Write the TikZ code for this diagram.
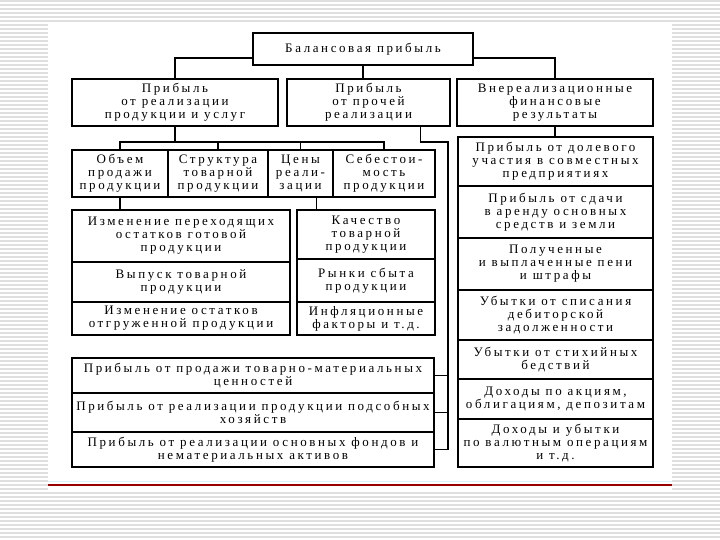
\documentclass[tikz,border=0pt]{standalone}
\usepackage{fontspec}
\setmainfont[LetterSpace=20]{Liberation Serif}
\usetikzlibrary{positioning, calc}

\begin{document}
\begin{tikzpicture}[
        x=1pt, y=-1pt,
        node distance=0pt,
        box/.style={
            draw,
            rectangle,
            line width=1.7pt,
            outer sep=0pt,
            inner sep=1pt,
            align=center,
            font=\fontsize{13pt}{13pt}\selectfont
        },
        link/.style={line width=1.7pt}
    ]

        \useasboundingbox (0,0) rectangle (720,540);
        % slide background
        \foreach \y in {1,5,...,539}
            \draw[gray!25, line width=1.3pt] (0,\y) -- (720,\y);
        \fill[white] (48,22) rectangle (672,490);
        \draw[cyan!15, line width=1pt] (48,481) -- (672,481);
        \draw[red!60!black, line width=1.2pt] (48,485) -- (672,485);

        \node[box, minimum width=220pt, minimum height=32pt] (bal) at (363,49) {Балансовая прибыль};

        \node[box, minimum width=206pt, minimum height=47pt] (real) at (175,102.5) {Прибыль\\ от реализации\\ продукции и услуг};
        \node[box, minimum width=163pt, minimum height=47pt] (other) at (368.5,102.5) {Прибыль\\ от прочей\\ реализации};
        \node[box, minimum width=196pt, minimum height=47pt] (nonop) at (555,102.5) {Внереализационные\\ финансовые\\ результаты};

        \node[box, minimum width=96pt, minimum height=47pt] (vol) at (120,173.5) {Объем\\ продажи\\ продукции};
        \node[box, minimum width=100pt, minimum height=47pt, right=of vol] (struct) {Структура\\ товарной\\ продукции};
        \node[box, minimum width=65pt, minimum height=47pt, right=of struct] (price) {Цены\\ реали-\\ зации};
        \node[box, minimum width=102pt, minimum height=47pt, right=of price] (cost) {Себестои-\\ мость\\ продукции};

        \node[box, anchor=north, minimum width=218pt, minimum height=52pt] (stock) at (181,210) {Изменение переходящих\\ остатков готовой\\ продукции};
        \node[box, minimum width=218pt, minimum height=40pt, below=of stock] (output) {Выпуск товарной\\ продукции};
        \node[box, minimum width=218pt, minimum height=33pt, below=of output] (shipped) {Изменение остатков\\ отгруженной продукции};

        \node[box, anchor=north, minimum width=138pt, minimum height=49pt] (quality) at (366,210) {Качество\\ товарной\\ продукции};
        \node[box, minimum width=138pt, minimum height=43pt, below=of quality] (markets) {Рынки сбыта\\ продукции};
        \node[box, minimum width=138pt, minimum height=33pt, below=of markets] (inflation) {Инфляционные\\ факторы и т.д.};

        \node[box, anchor=north, minimum width=362pt, minimum height=35pt] (tmc) at (253,358) {Прибыль от продажи товарно-материальных\\ ценностей};
        \node[box, minimum width=362pt, minimum height=39pt, below=of tmc] (aux) {Прибыль от реализации продукции подсобных\\ хозяйств};
        \node[box, minimum width=362pt, minimum height=35pt, below=of aux] (fixed) {Прибыль от реализации основных фондов и\\ нематериальных активов};

        \node[box, anchor=north, minimum width=195pt, minimum height=49pt] (equity) at (555.5,137) {Прибыль от долевого\\ участия в совместных\\ предприятиях};
        \node[box, minimum width=195pt, minimum height=52pt, below=of equity] (lease) {Прибыль от сдачи\\ в аренду основных\\ средств и земли};
        \node[box, minimum width=195pt, minimum height=52pt, below=of lease] (penalty) {Полученные\\ и выплаченные пени\\ и штрафы};
        \node[box, minimum width=195pt, minimum height=50pt, below=of penalty] (writeoff) {Убытки от списания\\ дебиторской\\ задолженности};
        \node[box, minimum width=195pt, minimum height=39pt, below=of writeoff] (disaster) {Убытки от стихийных\\ бедствий};
        \node[box, minimum width=195pt, minimum height=40pt, below=of disaster] (dividend) {Доходы по акциям,\\ облигациям, депозитам};
        \node[box, minimum width=195pt, minimum height=48pt, below=of dividend] (currency) {Доходы и убытки\\ по валютным операциям\\ и т.д.};

        \draw[link] ([yshift=-9pt]bal.west) -| (real.north);
        \draw[link] ([yshift=-9pt]bal.east) -| (nonop.north);
        \draw[link] (bal.south) -- (bal.south |- other.north);

        \draw[link] (vol.north) -- ++(0,-8) coordinate (busA) -| (cost.north);
        \draw[link] (struct.north) -- (struct.north |- busA);
        \draw[link] (price.north) -- (price.north |- busA);
        \draw[link] (real.south) -- (real.south |- busA);

        \draw[link] (vol.south) -- (vol.south |- stock.north);
        \draw[link] ([xshift=16pt]price.south) -- ([xshift=16pt]price.south |- quality.north);

        \coordinate (bend) at (448,142);
        \draw[link] ([xshift=52pt]other.south) |- (bend) -- (bend |- fixed.east) -- (fixed.east);
        \draw[link] (tmc.east) -- (tmc.east -| bend);
        \draw[link] (aux.east) -- (aux.east -| bend);

        \draw[link] (nonop.south) -- (nonop.south |- equity.north);

    \end{tikzpicture}
\end{document}
